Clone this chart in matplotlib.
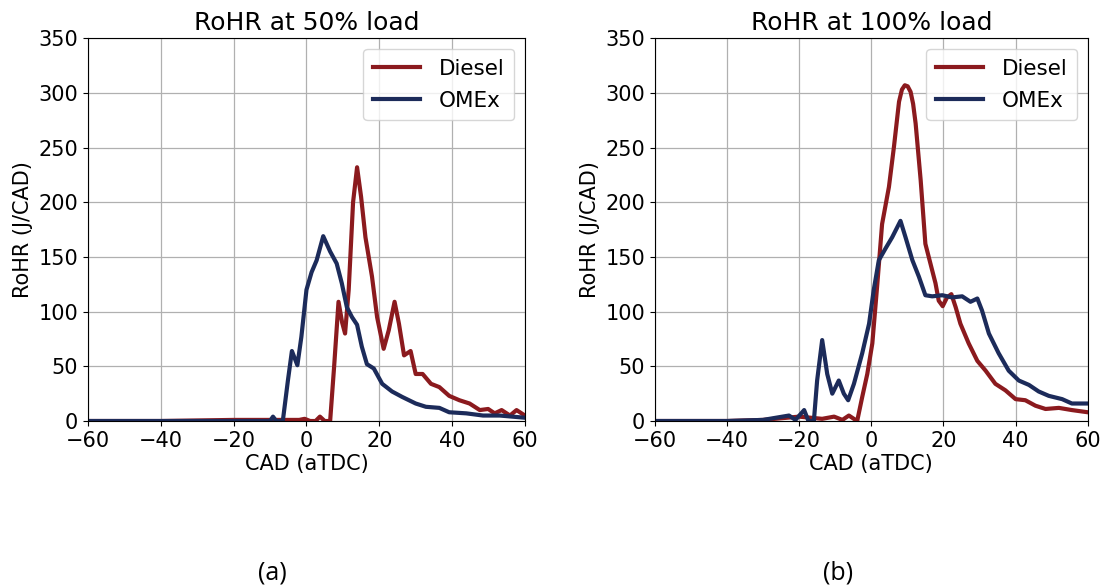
import matplotlib.pyplot as plt

C_DIESEL = "#8B1A1E"
C_OMEX = "#1C2B5A"

# 50 % load, crank angle (deg aTDC) and rate of heat release (J/CAD)
cad_50_diesel = [-60, -40, -20, -10, -2, -0.5, 1, 2.5, 3.7, 5, 6.5, 7.6, 8.8, 9.8, 10.6,
                 11.6, 12.8, 13.9, 15, 16.2, 18, 19.4, 21.2, 22.6, 24.2, 25.4, 26.8, 28.6,
                 30, 31.9, 34.2, 36.5, 39.2, 42, 44.8, 47.6, 49.9, 51.7, 53.6, 55.9, 57.7, 60]
rohr_50_diesel = [0, 0, 1, 1, 1, 2, 0, 0, 4, 0, 0, 50, 109, 90, 80,
                  120, 200, 232, 205, 168, 132, 95, 66, 83, 109, 89, 60, 64,
                  43, 43, 34, 31, 23, 19, 16, 10, 11, 7, 10, 5, 10, 5]

cad_50_omex = [-60, -40, -20, -10, -9.2, -8.3, -6.5, -5.1, -4, -2.5, -1.4, 0, 1.4, 2.8,
               4.6, 6.5, 8.3, 9.7, 11.1, 12.5, 13.9, 15.2, 16.6, 18.5, 20.8, 23.5, 26.3,
               30, 32.8, 36.5, 39.2, 43.9, 48.5, 53.1, 60]
rohr_50_omex = [0, 0, 0, 0, 4, 0, 0, 37, 64, 51, 77, 120, 136, 147,
                169, 155, 144, 126, 104, 95, 88, 68, 52, 48, 34, 27, 22,
                16, 13, 12, 8, 7, 5, 5, 3]

# 100 % load
cad_100_diesel = [-60, -40, -30, -20, -13.6, -10.3, -8, -6.2, -3.9, -2.5, -1.1, 0.3, 1.7,
                  3.0, 4.9, 6.3, 7.7, 8.5, 9.3, 10.1, 10.9, 11.6, 12.3, 13.7, 15, 16.4,
                  17.8, 18.7, 19.8, 21, 22.2, 23.4, 24.7, 27, 29.4, 31.7, 34.4, 37.2, 40,
                  42.7, 45.5, 48.3, 52, 55.6, 60]
rohr_100_diesel = [0, 0, 1, 4, 2, 4, 1, 5, 0, 22, 43, 71, 126,
                   180, 214, 251, 292, 303, 307, 306, 301, 290, 272, 220, 162, 144,
                   126, 110, 105, 113, 116, 104, 89, 71, 55, 46, 34, 28, 20,
                   19, 14, 11, 12, 10, 8]

cad_100_omex = [-60, -40, -30, -22.8, -21, -18.6, -17.4, -15.9, -15, -13.6, -12.2, -10.8,
                -9, -7.6, -6.4, -4.8, -2.5, -0.6, 0.7, 2.1, 4, 5.8, 8.1, 9.5, 11.4, 13.2,
                15, 16.9, 19.7, 22.4, 25.2, 27.5, 29.4, 30.7, 32.6, 35.3, 38.1, 40.9, 43.7,
                46.4, 49.2, 52.9, 55.6, 60]
rohr_100_omex = [0, 0, 1, 5, 1, 10, 0, 0, 37, 74, 43, 25,
                 37, 25, 19, 34, 62, 89, 120, 147, 158, 168, 183, 168, 147, 132,
                 115, 114, 115, 113, 114, 109, 112, 101, 80, 62, 46, 37, 33,
                 27, 23, 20, 16, 16]

panels = [
    ("RoHR at 50% load", "(a)", cad_50_diesel, rohr_50_diesel, cad_50_omex, rohr_50_omex),
    ("RoHR at 100% load", "(b)", cad_100_diesel, rohr_100_diesel, cad_100_omex, rohr_100_omex),
]

fig = plt.figure(figsize=(11.06, 5.88), dpi=100)
ax_rects = [[0.0796, 0.284, 0.395, 0.651], [0.592, 0.284, 0.3915, 0.651]]
tag_x = [0.246, 0.758]

for rect, tx, (title, tag, xd, yd, xo, yo) in zip(ax_rects, tag_x, panels):
    ax = fig.add_axes(rect)
    ax.plot(xd, yd, color=C_DIESEL, lw=3, label="Diesel")
    ax.plot(xo, yo, color=C_OMEX, lw=3, label="OMEx")
    ax.set_xlim(-60, 60)
    ax.set_ylim(0, 350)
    ax.set_xticks(range(-60, 61, 20))
    ax.set_yticks(range(0, 351, 50))
    ax.grid(True, color="#b0b0b0", lw=0.9)
    ax.tick_params(labelsize=15)
    ax.set_xlabel("CAD (aTDC)", fontsize=15, labelpad=2)
    ax.set_ylabel("RoHR (J/CAD)", fontsize=15)
    ax.set_title(title, fontsize=18, pad=6)
    ax.legend(loc="upper right", fontsize=15.5, handlelength=2.2, handletextpad=0.85,
              labelspacing=0.55, borderpad=0.45)
    fig.text(tx, 0.0255, tag, ha="center", va="center",
             fontsize=18, family=["Open Sans", "DejaVu Sans"])

fig.savefig("out.png", dpi=100)
